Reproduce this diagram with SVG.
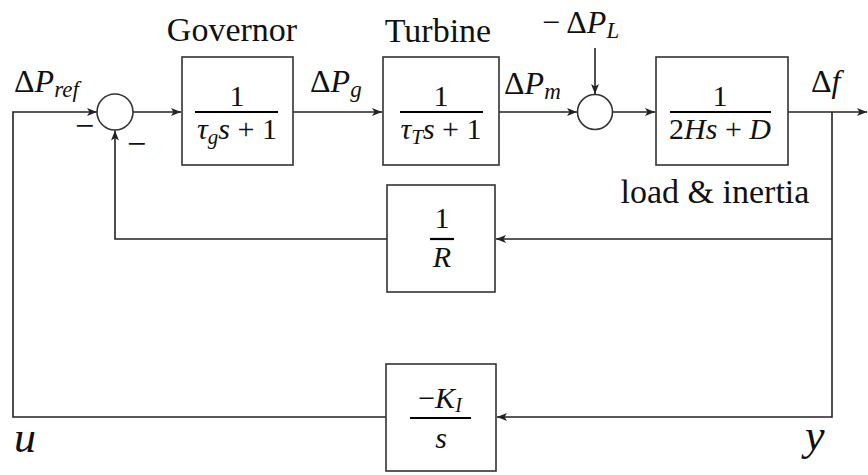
<svg xmlns="http://www.w3.org/2000/svg" width="868" height="475" viewBox="0 0 868 475">
<style>
text { font-family: "Liberation Serif", "DejaVu Serif", serif; fill: #111; }
.lbl { font-size: 34px; }
.m { font-size: 32px; }
.mn { font-size: 34px; text-anchor: middle; }
.fr { font-size: 30px; text-anchor: middle; }
.i { font-style: italic; }
.box { fill: #fff; stroke: #333; stroke-width: 1.6; }
.sum { fill: #fff; stroke: #333; stroke-width: 1.6; }
.bar { stroke: #000; stroke-width: 2.2; }
.wire { fill: none; stroke: #222; stroke-width: 1.6; }
.arr { marker-end: url(#ah); }
</style>
<defs>
<marker id="ah" viewBox="0 0 10 8" refX="10" refY="4" markerWidth="11" markerHeight="8" orient="auto" markerUnits="userSpaceOnUse">
<path d="M0,0 L10,4 L0,8 L2.5,4 z" fill="#222"/>
</marker>
</defs>

<g id="connectors">
<path class="wire arr" d="M386,417 H13 V112 H97"/>
<path class="wire arr" d="M133,112 H181"/>
<path class="wire arr" d="M293,112 H382"/>
<path class="wire arr" d="M499,112 H577"/>
<path class="wire arr" d="M595,48 V94"/>
<path class="wire arr" d="M612.5,112 H655"/>
<path class="wire arr" d="M788,112 H867"/>
<path class="wire arr" d="M832,112 V417 H497"/>
<path class="wire arr" d="M832,239 H496"/>
<path class="wire arr" d="M387,239 H115 V130.5"/>
</g>

<g id="sum1">
<circle class="sum" cx="115" cy="112" r="18"/>
<text class="mn" x="84.5" y="137">−</text>
<text class="mn" x="136.5" y="155">−</text>
</g>

<g id="sum2">
<circle class="sum" cx="595" cy="112" r="17.5"/>
</g>

<g id="governor">
<rect class="box" x="182" y="57" width="111" height="108"/>
<text class="lbl" x="232" y="41" text-anchor="middle">Governor</text>
<text class="fr" x="237" y="106">1</text>
<line class="bar" x1="195" y1="112" x2="278" y2="112"/>
<text class="fr" x="237" y="139"><tspan class="i">τ</tspan><tspan class="i" font-size="21" dy="5">g</tspan><tspan class="i" dy="-5">s</tspan> + 1</text>
</g>

<g id="turbine">
<rect class="box" x="383" y="57" width="116" height="108"/>
<text class="lbl" x="438" y="42" text-anchor="middle">Turbine</text>
<text class="fr" x="441" y="106">1</text>
<line class="bar" x1="400" y1="112" x2="483" y2="112"/>
<text class="fr" x="441" y="139"><tspan class="i">τ</tspan><tspan class="i" font-size="21" dy="5">T</tspan><tspan class="i" dy="-5">s</tspan> + 1</text>
</g>

<g id="load">
<rect class="box" x="656" y="57" width="132" height="108"/>
<text class="fr" x="720" y="106">1</text>
<line class="bar" x1="670" y1="112" x2="771" y2="112"/>
<text class="fr" x="720" y="139">2<tspan class="i">Hs</tspan> + <tspan class="i">D</tspan></text>
<text class="lbl" x="715" y="203" text-anchor="middle" font-size="36">load &amp; inertia</text>
</g>

<g id="droop">
<rect class="box" x="387" y="185" width="108" height="107"/>
<text class="fr" x="442" y="228">1</text>
<line class="bar" x1="430" y1="239" x2="454" y2="239"/>
<text class="fr i" x="442" y="267">R</text>
</g>

<g id="integral">
<rect class="box" x="386" y="364" width="110" height="107"/>
<text class="fr" x="440" y="408">−<tspan class="i">K</tspan><tspan class="i" font-size="20" dy="4">I</tspan></text>
<line class="bar" x1="410" y1="418" x2="471" y2="418"/>
<text class="fr i" x="441" y="448">s</text>
</g>

<g id="labels">
<text class="m" x="14" y="92">Δ<tspan class="i">P</tspan><tspan class="i" font-size="23" dy="5">ref</tspan></text>
<text class="m" x="310" y="92">Δ<tspan class="i">P</tspan><tspan class="i" font-size="23" dy="5">g</tspan></text>
<text class="m" x="504" y="94">Δ<tspan class="i">P</tspan><tspan class="i" font-size="23" dy="5">m</tspan></text>
<text class="m" x="542" y="33">− Δ<tspan class="i">P</tspan><tspan class="i" font-size="23" dy="5">L</tspan></text>
<text class="m" x="811" y="92">Δ<tspan class="i">f</tspan></text>
<text class="i" font-size="44" x="14" y="452">u</text>
<text class="i" font-size="44" x="805" y="450">y</text>
</g>
</svg>
